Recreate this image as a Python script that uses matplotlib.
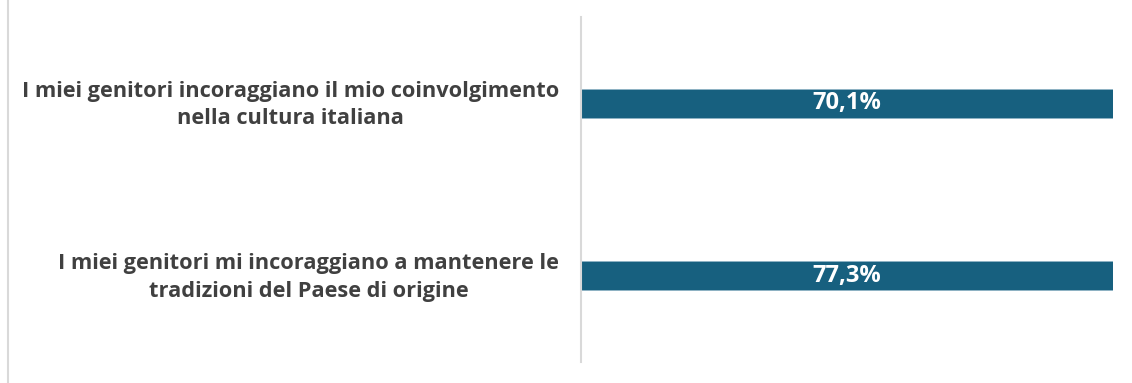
import matplotlib.pyplot as plt
import matplotlib.transforms as mtransforms
from matplotlib.lines import Line2D

# ── Data ──────────────────────────────────────────────────────────────
categories = [
    "I miei genitori incoraggiano il mio coinvolgimento\nnella cultura italiana",
    "I miei genitori mi incoraggiano a mantenere le\ntradizioni del Paese di origine",
]
values = [70.1, 77.3]
value_labels = ["70,1%", "77,3%"]

# axis upper limit: both bars run past it and are clipped at the edge
x_max = 70.0

BAR_COLOR = "#17607F"
TEXT_COLOR = "#404040"
plt.rcParams["font.family"] = ["Open Sans", "DejaVu Sans"]

fig = plt.figure(figsize=(11.32, 3.83), dpi=100)
ax = fig.add_axes([581 / 1132, 1 - 362 / 383, (1113 - 581) / 1132, 345 / 383])

pos = list(range(len(categories)))
ax.barh(pos, values, height=0.168, color=BAR_COLOR,
        edgecolor="#8fb3c4", linewidth=0.6, zorder=2)
ax.set_xlim(0, x_max)
ax.set_ylim(len(categories) - 0.5, -0.5)

for y, v, lab in zip(pos, values, value_labels):
    ax.text(min(v, x_max) / 2, y, lab, ha="center", va="center",
            color="white", fontsize=17, fontweight="bold", zorder=3)

ax.set_yticks(pos)
ax.set_yticklabels(categories, fontsize=15.7, fontweight="bold",
                   color=TEXT_COLOR, multialignment="center",
                   linespacing=1.42)
ax.tick_params(axis="y", length=0, pad=16)
# nudge the category labels up a few pixels
nudge = mtransforms.ScaledTranslation(0, 4 / 100, fig.dpi_scale_trans)
for lbl in ax.get_yticklabels():
    lbl.set_transform(lbl.get_transform() + nudge)
ax.set_xticks([])
for side in ("top", "right", "bottom"):
    ax.spines[side].set_visible(False)
ax.spines["left"].set_color("#d9d9d9")
ax.spines["left"].set_linewidth(1.5)

# thin frame edge on the left of the figure
fig.add_artist(Line2D([8 / 1132, 8 / 1132], [0, 1], color="#d9d9d9",
                      linewidth=1.5, transform=fig.transFigure))

fig.savefig("out.png", dpi=100, facecolor="white")
